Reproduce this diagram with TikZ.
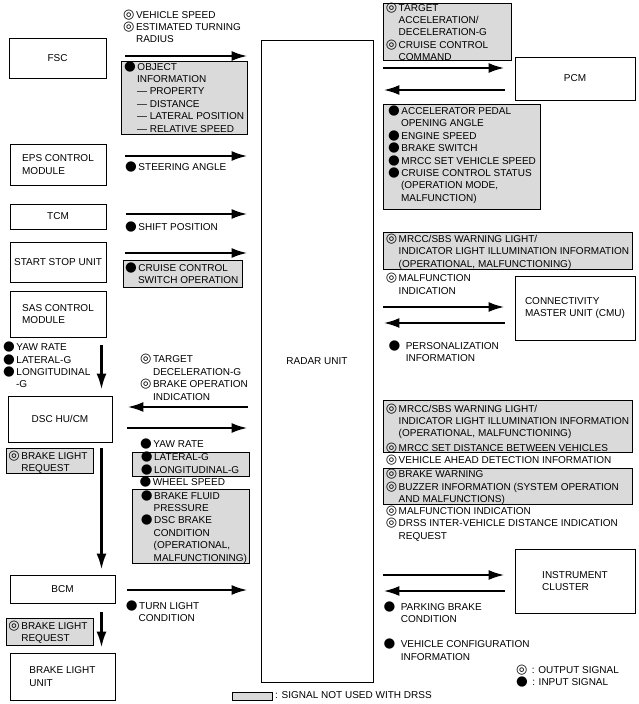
\documentclass[tikz,border=0pt]{standalone}
\usepackage{fontspec}
\setmainfont{Liberation Sans}
\newfontfamily\symfont{DejaVu Sans}
\usetikzlibrary{arrows.meta}
\definecolor{nodrssgray}{RGB}{218,218,218}
\tikzset{>={Latex[length=16pt,width=10pt]}}
\tikzset{
    unit/.style={draw, line width=0.8pt, align=left, inner sep=0pt},
    signal/.style={anchor=north west, inner sep=0pt, align=left},
    nodrss/.style={draw, fill=nodrssgray, line width=0.8pt},
    flow/.style={->, line width=2.5pt},
}
\newcommand{\osig}{\smash{\symfont\fontsize{13}{13}\selectfont ◎}\hspace{1.5pt}}
\newcommand{\isig}{\smash{\symfont\fontsize{13.5}{13}\selectfont ●}\hspace{1.5pt}}
\newcommand{\ind}{\hphantom{\osig}}

\begin{document}
\begin{tikzpicture}[x=1pt,y=-1pt,font=\fontsize{10}{12.4}\selectfont]
            \useasboundingbox (0,0) rectangle (639,704);
            \node[unit, minimum width=97pt, minimum height=40pt] (fsc) at (57.5,58) {FSC};
            \node[unit, minimum width=96pt, minimum height=41pt] (eps) at (58,164.5) {EPS CONTROL\\MODULE};
            \node[unit, minimum width=96pt, minimum height=25pt] (tcm) at (58,216.5) {TCM};
            \node[unit, minimum width=96pt, minimum height=40pt] (ssu) at (58,262) {START STOP UNIT};
            \node[unit, minimum width=96pt, minimum height=46pt] (sas) at (58,314) {SAS CONTROL\\MODULE};
            \node[unit, minimum width=104pt, minimum height=46pt] (dsc) at (60,419) {DSC HU/CM};
            \node[unit, minimum width=105pt, minimum height=28pt] (bcm) at (62.5,589) {BCM};
            \node[unit, minimum width=105pt, minimum height=47pt] (blu) at (62.5,676.5) {BRAKE LIGHT\\UNIT};
            \node[unit, minimum width=112pt, minimum height=642pt] (radar) at (317,361) {RADAR UNIT};
            \node[unit, minimum width=120pt, minimum height=43pt] (pcm) at (575,78.5) {PCM};
            \node[unit, minimum width=120pt, minimum height=64pt] (cmu) at (575,308) {CONNECTIVITY\\MASTER UNIT (CMU)};
            \node[unit, minimum width=120pt, minimum height=64pt] (ic) at (575,581) {INSTRUMENT\\CLUSTER};
            \coordinate (lane) at (101.5,0);

            \path[nodrss] (121,61) rectangle (247,134);
            \path[nodrss] (123,260) rectangle (242,287);
            \path[nodrss] (132,452) rectangle (249,476);
            \path[nodrss] (132,489) rectangle (249,563);
            \path[nodrss] (6,448) rectangle (93,473);
            \path[nodrss] (6,618) rectangle (93,645);
            \path[nodrss] (383,3) rectangle (511,60);
            \path[nodrss] (383,104) rectangle (540,209);
            \path[nodrss] (383,232) rectangle (632,269);
            \path[nodrss] (383,400) rectangle (632,452);
            \path[nodrss] (383,468) rectangle (632,504);
            \path[nodrss] (232,692) rectangle (272,700);

            \node[signal] (fscout) at (123,11) {\osig VEHICLE SPEED\\\osig ESTIMATED TURNING\\\ind RADIUS};
            \node[signal] (fscin) at (124,63) {\isig OBJECT\\\ind INFORMATION\\\ind — PROPERTY\\\ind — DISTANCE\\\ind — LATERAL POSITION\\\ind — RELATIVE SPEED};
            \node[signal] (epsin) at (125,163) {\isig STEERING ANGLE};
            \node[signal] (tcmin) at (125,223) {\isig SHIFT POSITION};
            \node[signal] (ssuin) at (125,264) {\isig CRUISE CONTROL\\\ind SWITCH OPERATION};
            \node[signal] (sasout) at (3,343.7) {\isig YAW RATE\\\isig LATERAL-G\\\isig LONGITUDINAL\\\ind -G};
            \node[signal] (dscout) at (140,355.7) {\osig TARGET\\\ind DECELERATION-G\\\osig BRAKE OPERATION\\\ind INDICATION};
            \node[signal] (dscyaw) at (140,440.4) {\isig YAW RATE};
            \node[signal] (dscg) at (140.7,453.7) {\isig LATERAL-G\\\isig LONGITUDINAL-G};
            \node[signal] (dscwheel) at (139.3,478.4) {\isig WHEEL SPEED};
            \node[signal] (dscbrake) at (140.7,492) {\isig BRAKE FLUID\\\ind PRESSURE\\\isig DSC BRAKE\\\ind CONDITION\\\ind (OPERATIONAL,\\\ind MALFUNCTIONING)};
            \node[signal] (dscreq) at (8.3,452.4) {\osig BRAKE LIGHT\\\ind REQUEST};
            \node[signal] (bcmin) at (125.7,602) {\isig TURN LIGHT\\\ind CONDITION};
            \node[signal] (bcmreq) at (8.3,622.4) {\osig BRAKE LIGHT\\\ind REQUEST};

            \node[signal] (pcmout) at (385.7,4) {\osig TARGET\\\ind ACCELERATION/\\\ind DECELERATION-G\\\osig CRUISE CONTROL\\\ind COMMAND};
            \node[signal] (pcmin) at (388,107.4) {\isig ACCELERATOR PEDAL\\\ind OPENING ANGLE\\\isig ENGINE SPEED\\\isig BRAKE SWITCH\\\isig MRCC SET VEHICLE SPEED\\\isig CRUISE CONTROL STATUS\\\ind (OPERATION MODE,\\\ind MALFUNCTION)};
            \node[signal] (cmuwarn) at (385.7,234.9) {\osig MRCC/SBS WARNING LIGHT/\\\ind INDICATOR LIGHT ILLUMINATION INFORMATION\\\ind (OPERATIONAL, MALFUNCTIONING)};
            \node[signal] (cmuout) at (385.7,274.7) {\osig MALFUNCTION\\\ind INDICATION};
            \node[signal] (cmuin) at (388.3,342.4) {\isig\hspace{4pt}PERSONALIZATION\\\hphantom{\isig}\hspace{4pt}INFORMATION};
            \node[signal] (icwarn) at (385.7,404.7) {\osig MRCC/SBS WARNING LIGHT/\\\ind INDICATOR LIGHT ILLUMINATION INFORMATION\\\ind (OPERATIONAL, MALFUNCTIONING)\\[2pt]\osig MRCC SET DISTANCE BETWEEN VEHICLES};
            \node[signal] (icahead) at (385.7,456.4) {\osig VEHICLE AHEAD DETECTION INFORMATION};
            \node[signal] (icbuzz) at (385.7,470.7) {\osig BRAKE WARNING\\\osig BUZZER INFORMATION (SYSTEM OPERATION\\\ind AND MALFUNCTIONS)};
            \node[signal] (icout) at (385.7,507.4) {\osig MALFUNCTION INDICATION\\\osig DRSS INTER-VEHICLE DISTANCE INDICATION\\\ind REQUEST};
            \node[signal] (icpark) at (383.3,603) {\isig\hspace{4pt}PARKING BRAKE\\\hphantom{\isig}\hspace{4pt}CONDITION};
            \node[signal] (icconf) at (383.3,640.7) {\isig\hspace{4pt}VEHICLE CONFIGURATION\\\hphantom{\isig}\hspace{4pt}INFORMATION};
            \node[signal] (legsig) at (516,666.4) {\osig\ : OUTPUT SIGNAL\\\isig\ : INPUT SIGNAL};
            \node[signal] (legdrss) at (275,691) {: SIGNAL NOT USED WITH DRSS};

            \draw[flow, shorten <=19pt, shorten >=13pt] ([yshift=2pt]fsc.east) -- ([yshift=2pt]fsc.east -| radar.west);
            \draw[flow, shorten <=19pt, shorten >=13pt] ([yshift=8.5pt]eps.east) -- ([yshift=8.5pt]eps.east -| radar.west);
            \draw[flow, shorten <=20pt, shorten >=13pt] ([yshift=2.5pt]tcm.east) -- ([yshift=2.5pt]tcm.east -| radar.west);
            \draw[flow, shorten <=19pt, shorten >=13pt] ([yshift=9pt]ssu.east) -- ([yshift=9pt]ssu.east -| radar.west);
            \draw[flow, shorten <=13pt, shorten >=15pt] ([yshift=12pt]dsc.east -| radar.west) -- ([yshift=12pt]dsc.east);
            \draw[flow, shorten <=15pt, shorten >=13pt] ([yshift=-9pt]dsc.east) -- ([yshift=-9pt]dsc.east -| radar.west);
            \draw[flow, shorten <=12pt, shorten >=13pt] ([yshift=-1pt]bcm.east) -- ([yshift=-1pt]bcm.east -| radar.west);
            \draw[flow, shorten <=10pt, shorten >=10pt] ([yshift=10.5pt]pcm.west -| radar.east) -- ([yshift=10.5pt]pcm.west);
            \draw[flow, shorten <=10pt, shorten >=10pt] ([yshift=-11.5pt]pcm.west) -- ([yshift=-11.5pt]pcm.west -| radar.east);
            \draw[flow, shorten <=10pt, shorten >=10pt] ([yshift=1pt]cmu.west -| radar.east) -- ([yshift=1pt]cmu.west);
            \draw[flow, shorten <=10pt, shorten >=10pt] ([yshift=-15pt]cmu.west) -- ([yshift=-15pt]cmu.west -| radar.east);
            \draw[flow, shorten <=10pt, shorten >=10pt] ([yshift=6pt]ic.west -| radar.east) -- ([yshift=6pt]ic.west);
            \draw[flow, shorten <=10pt, shorten >=10pt] ([yshift=-10pt]ic.west) -- ([yshift=-10pt]ic.west -| radar.east);
            \draw[flow, shorten <=8pt, shorten >=6pt] (lane |- sas.south) -- (lane |- dsc.north);
            \draw[flow, shorten <=6pt, shorten >=5pt] (lane |- dsc.south) -- (lane |- bcm.north);
            \draw[flow, shorten <=9pt, shorten >=5pt] (lane |- bcm.south) -- (lane |- blu.north);
        \end{tikzpicture}
\end{document}
